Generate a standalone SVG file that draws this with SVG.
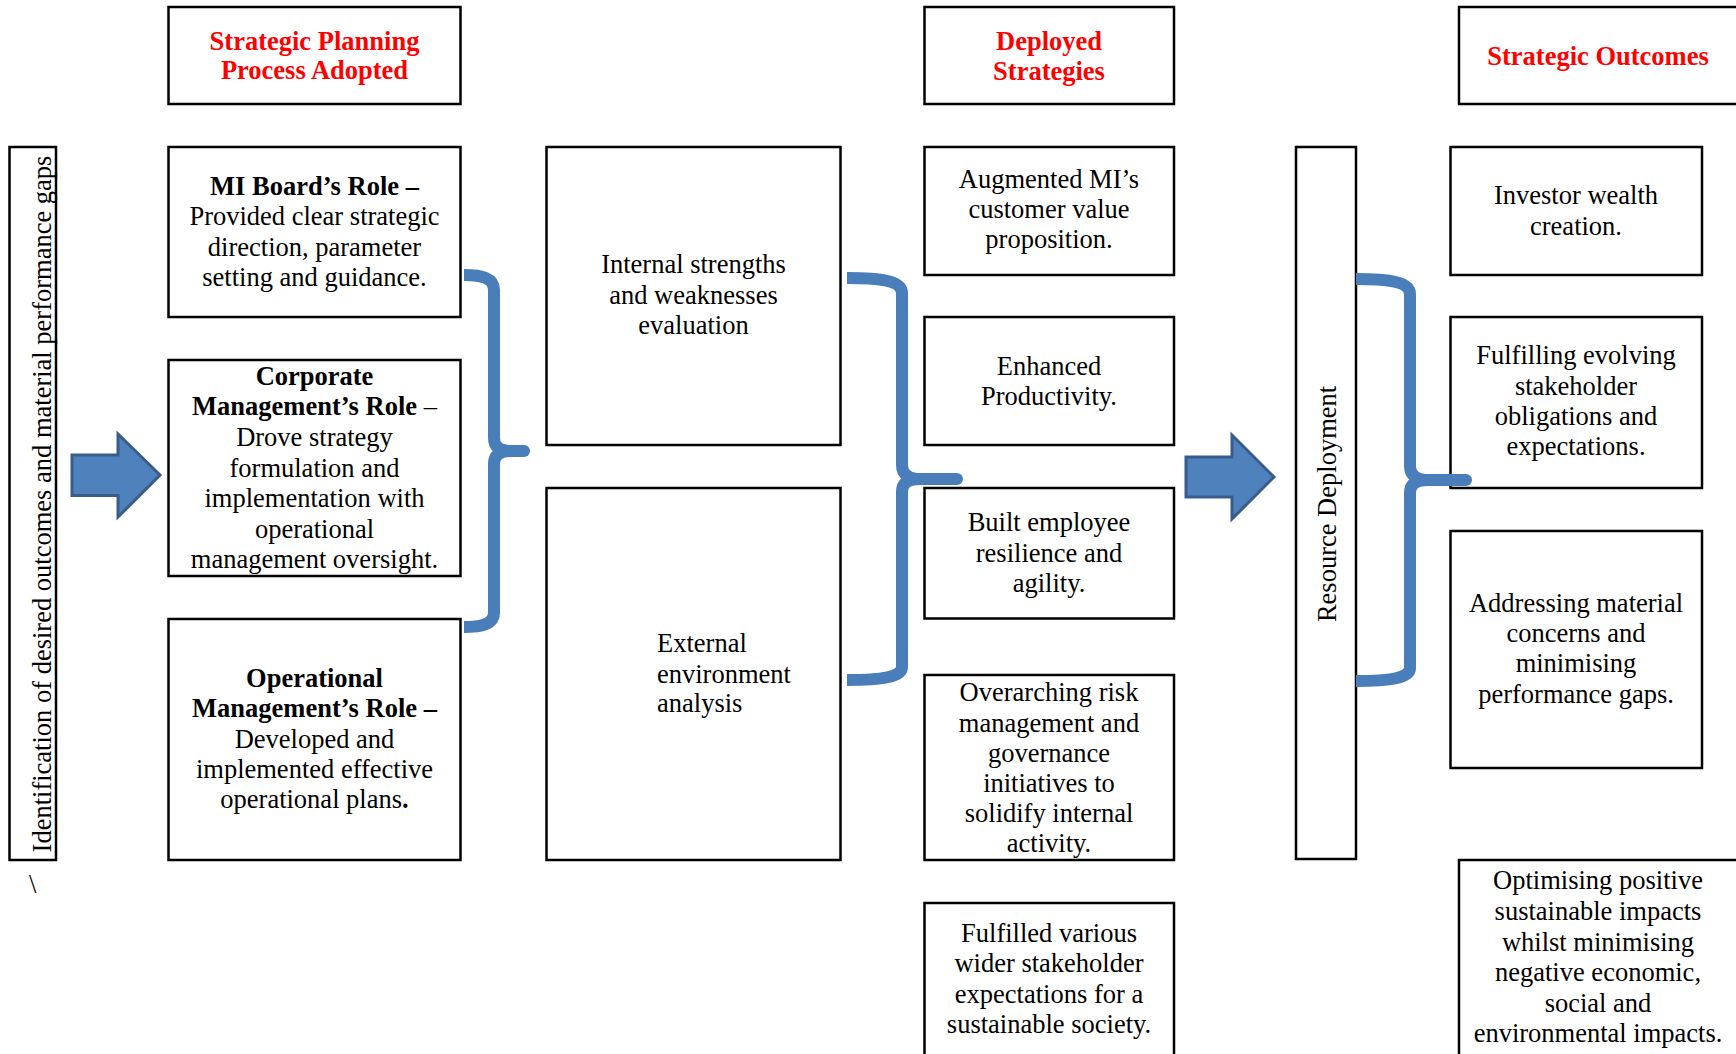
<svg xmlns="http://www.w3.org/2000/svg" width="1736" height="1054" viewBox="0 0 1736 1054">
<style>
.box{fill:#fff;stroke:#000;stroke-width:2.5}
.t{font-family:"Liberation Serif","Times New Roman",serif;font-size:26.5px;fill:#000;text-anchor:middle}
.h{font-family:"Liberation Serif","Times New Roman",serif;font-size:26.5px;font-weight:bold;fill:#ff0000;text-anchor:middle}
.b{font-weight:bold}
.brace{fill:none;stroke:#4a7ebb;stroke-width:12;stroke-linecap:butt;stroke-linejoin:round}
.nub{fill:none;stroke:#4a7ebb;stroke-width:12;stroke-linecap:round}
.arrow{fill:#4f81bd;stroke:#385d8a;stroke-width:3}
</style>
<rect width="1736" height="1054" fill="#fff"/>

<g id="header-planning">
<rect class="box" x="168.5" y="7" width="292" height="97"/>
<text class="h" x="314.5" y="50">Strategic Planning</text>
<text class="h" x="314.5" y="79">Process Adopted</text>
</g>
<g id="header-deployed">
<rect class="box" x="924.5" y="7" width="249.5" height="97"/>
<text class="h" x="1049" y="50">Deployed</text>
<text class="h" x="1049" y="80">Strategies</text>
</g>
<g id="header-outcomes">
<rect class="box" x="1459" y="7" width="290" height="97"/>
<text class="h" x="1598" y="65">Strategic Outcomes</text>
</g>

<g id="identification">
<rect class="box" x="9.5" y="147" width="46.5" height="713"/>
<text class="t" transform="translate(51,504) rotate(-90)">Identification of desired outcomes and material performance gaps</text>
</g>
<text class="t" x="29" y="893" style="text-anchor:start">\</text>

<g id="mi-board">
<rect class="box" x="168.5" y="147" width="292" height="170"/>
<text class="t" x="314.5" y="195"><tspan class="b">MI Board’s Role –</tspan></text>
<text class="t" x="314.5" y="225">Provided clear strategic</text>
<text class="t" x="314.5" y="255.5">direction, parameter</text>
<text class="t" x="314.5" y="286">setting and guidance.</text>
</g>
<g id="corporate">
<rect class="box" x="168.5" y="360" width="292" height="216"/>
<text class="t" x="314.5" y="385"><tspan class="b">Corporate</tspan></text>
<text class="t" x="314.5" y="415"><tspan class="b">Management’s Role</tspan> –</text>
<text class="t" x="314.5" y="446">Drove strategy</text>
<text class="t" x="314.5" y="476.5">formulation and</text>
<text class="t" x="314.5" y="507">implementation with</text>
<text class="t" x="314.5" y="537.5">operational</text>
<text class="t" x="314.5" y="568">management oversight.</text>
</g>
<g id="operational">
<rect class="box" x="168.5" y="619" width="292" height="241"/>
<text class="t" x="314.5" y="687"><tspan class="b">Operational</tspan></text>
<text class="t" x="314.5" y="717"><tspan class="b">Management’s Role –</tspan></text>
<text class="t" x="314.5" y="748">Developed and</text>
<text class="t" x="314.5" y="778">implemented effective</text>
<text class="t" x="314.5" y="808">operational plans<tspan class="b">.</tspan></text>
</g>

<g id="internal">
<rect class="box" x="546.5" y="147" width="294" height="298"/>
<text class="t" x="693.5" y="273">Internal strengths</text>
<text class="t" x="693.5" y="304">and weaknesses</text>
<text class="t" x="693.5" y="334">evaluation</text>
</g>
<g id="external">
<rect class="box" x="546.5" y="488" width="294" height="372"/>
<text class="t" x="657" y="652" style="text-anchor:start">External</text>
<text class="t" x="657" y="682.5" style="text-anchor:start">environment</text>
<text class="t" x="657" y="712" style="text-anchor:start">analysis</text>
</g>

<g id="augmented">
<rect class="box" x="924.5" y="147" width="249.5" height="128"/>
<text class="t" x="1049" y="188">Augmented MI’s</text>
<text class="t" x="1049" y="218">customer value</text>
<text class="t" x="1049" y="248">proposition.</text>
</g>
<g id="enhanced">
<rect class="box" x="924.5" y="317" width="249.5" height="128"/>
<text class="t" x="1049" y="375">Enhanced</text>
<text class="t" x="1049" y="405">Productivity.</text>
</g>
<g id="built">
<rect class="box" x="924.5" y="488" width="249.5" height="130.5"/>
<text class="t" x="1049" y="531">Built employee</text>
<text class="t" x="1049" y="561.5">resilience and</text>
<text class="t" x="1049" y="592">agility.</text>
</g>
<g id="overarching">
<rect class="box" x="924.5" y="675" width="249.5" height="185"/>
<text class="t" x="1049" y="701">Overarching risk</text>
<text class="t" x="1049" y="731.5">management and</text>
<text class="t" x="1049" y="762">governance</text>
<text class="t" x="1049" y="792">initiatives to</text>
<text class="t" x="1049" y="822">solidify internal</text>
<text class="t" x="1049" y="852">activity.</text>
</g>
<g id="fulfilled">
<rect class="box" x="924.5" y="903" width="249.5" height="170"/>
<text class="t" x="1049" y="942">Fulfilled various</text>
<text class="t" x="1049" y="972">wider stakeholder</text>
<text class="t" x="1049" y="1002.5">expectations for a</text>
<text class="t" x="1049" y="1033">sustainable society.</text>
</g>

<g id="resource">
<rect class="box" x="1296" y="147" width="60" height="712"/>
<text class="t" transform="translate(1336,504) rotate(-90)">Resource Deployment</text>
</g>

<g id="investor">
<rect class="box" x="1450.5" y="147" width="251.5" height="128"/>
<text class="t" x="1576" y="204">Investor wealth</text>
<text class="t" x="1576" y="235">creation.</text>
</g>
<g id="fulfilling">
<rect class="box" x="1450.5" y="317" width="251.5" height="171"/>
<text class="t" x="1576" y="364">Fulfilling evolving</text>
<text class="t" x="1576" y="394.5">stakeholder</text>
<text class="t" x="1576" y="425">obligations and</text>
<text class="t" x="1576" y="455">expectations.</text>
</g>
<g id="addressing">
<rect class="box" x="1450.5" y="531" width="251.5" height="237"/>
<text class="t" x="1576" y="612">Addressing material</text>
<text class="t" x="1576" y="642">concerns and</text>
<text class="t" x="1576" y="672">minimising</text>
<text class="t" x="1576" y="703">performance gaps.</text>
</g>
<g id="optimising">
<rect class="box" x="1459" y="860" width="290" height="210"/>
<text class="t" x="1598" y="889">Optimising positive</text>
<text class="t" x="1598" y="920">sustainable impacts</text>
<text class="t" x="1598" y="950.5">whilst minimising</text>
<text class="t" x="1598" y="981">negative economic,</text>
<text class="t" x="1598" y="1011.5">social and</text>
<text class="t" x="1598" y="1042">environmental impacts.</text>
</g>

<g id="connectors">
<polygon class="arrow" points="72,455 118,455 118,434 160,475 118,517 118,495.5 72,495.5"/>
<polygon class="arrow" points="1186,457 1232,457 1232,435 1274,477 1232,519 1232,497 1186,497"/>

<path class="brace" d="M464,275 C482,275 494,278 494,290 L494,438 C494,447 500,451 512,451"/>
<path class="brace" d="M512,451 C500,451 494,455 494,464 L494,613 C494,624 482,627 464,627"/>
<line class="nub" x1="510" y1="451" x2="524" y2="451"/>

<path class="brace" d="M847,278 C882,278 902,281 902,293 L902,465 C902,474 908,479 920,479"/>
<path class="brace" d="M920,479 C908,479 902,483 902,492 L902,667 C902,677 882,680 847,680"/>
<line class="nub" x1="918" y1="479" x2="957" y2="479"/>

<path class="brace" d="M1356,279 C1390,279 1410,282 1410,294 L1410,466 C1410,475 1416,480 1428,480"/>
<path class="brace" d="M1428,480 C1416,480 1410,484 1410,493 L1410,668 C1410,678 1390,681 1356,681"/>
<line class="nub" x1="1426" y1="480" x2="1466" y2="480"/>
</g>
</svg>
